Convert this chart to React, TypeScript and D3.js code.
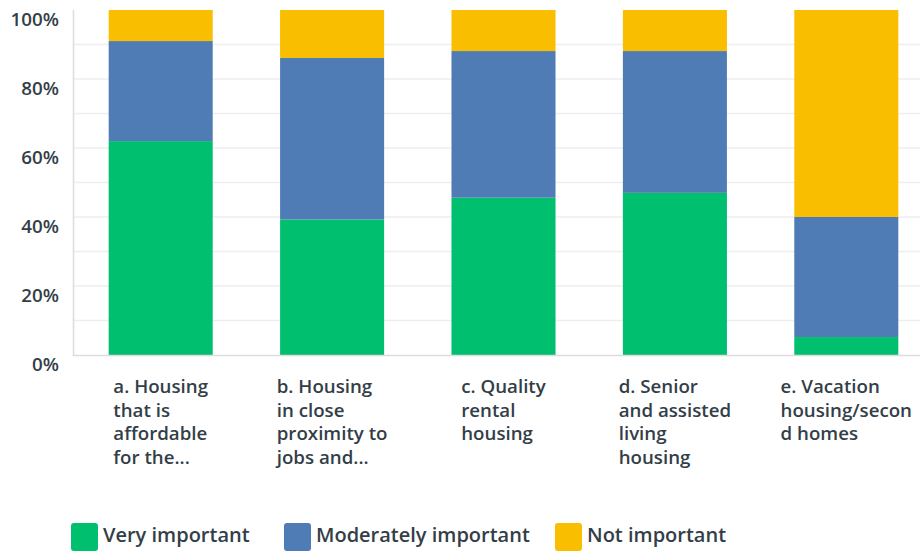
import React, { useEffect, useRef } from "react";
import * as d3 from "d3";

const categories = [
  ["a. Housing", "that is", "affordable", "for the..."],
  ["b. Housing", "in close", "proximity to", "jobs and..."],
  ["c. Quality", "rental", "housing"],
  ["d. Senior", "and assisted", "living", "housing"],
  ["e. Vacation", "housing/secon", "d homes"],
];
const categoryKeys = ["a", "b", "c", "d", "e"];
const seriesNames = ["Very important", "Moderately important", "Not important"];
const veryImportant = [62.0, 39.3, 45.6, 47.0, 5.2];
const moderatelyImportant = [29.0, 46.8, 42.5, 41.1, 34.8];
const notImportant = [9.0, 13.9, 11.9, 11.9, 60.0];
const yTicks = [0, 20, 40, 60, 80, 100];
const gridTicks = [10, 20, 30, 40, 50, 60, 70, 80, 90];
const colors = ["#00bf6f", "#507cb6", "#f9be00"];

const W = 920;
const H = 551;
const FONT = "'Open Sans', sans-serif";
const TEXT = "#333e48";

export default function App() {
  const ref = useRef<SVGSVGElement | null>(null);

  useEffect(() => {
    const svg = d3.select(ref.current);
    svg.selectAll("*").remove();

    const rows = categoryKeys.map((k, i) => ({
      key: k,
      v0: veryImportant[i],
      v1: moderatelyImportant[i],
      v2: notImportant[i],
    }));
    const stack = d3.stack<any>().keys(["v0", "v1", "v2"]);
    const series = stack(rows);

    const x = d3
      .scaleBand()
      .domain(categoryKeys)
      .range([75, 932])
      .paddingInner(0.393)
      .paddingOuter(0.1965);
    const y = d3.scaleLinear().domain([0, 100]).range([355, 10]);

    // gridlines
    svg
      .append("g")
      .selectAll("line")
      .data(gridTicks)
      .join("line")
      .attr("x1", 74)
      .attr("x2", W)
      .attr("y1", (d) => y(d))
      .attr("y2", (d) => y(d))
      .attr("stroke", "#eeeeee")
      .attr("stroke-width", 1.5);

    // bars
    svg
      .append("g")
      .selectAll("g")
      .data(series)
      .join("g")
      .attr("fill", (_d, i) => colors[i])
      .selectAll("rect")
      .data((d) => d)
      .join("rect")
      .attr("x", (d: any) => x(d.data.key)!)
      .attr("width", x.bandwidth())
      .attr("y", (d: any) => y(d[1]))
      .attr("height", (d: any) => y(d[0]) - y(d[1]));

    // axes lines
    svg
      .append("line")
      .attr("x1", 73.5)
      .attr("x2", 73.5)
      .attr("y1", y(100))
      .attr("y2", y(0) + 1)
      .attr("stroke", "#dcdcdc")
      .attr("stroke-width", 1.5);
    svg
      .append("line")
      .attr("x1", 73)
      .attr("x2", W)
      .attr("y1", y(0) + 0.5)
      .attr("y2", y(0) + 0.5)
      .attr("stroke", "#dcdcdc")
      .attr("stroke-width", 1.5);

    // y tick labels
    svg
      .append("g")
      .selectAll("text")
      .data(yTicks)
      .join("text")
      .attr("x", 59)
      .attr("y", (d) => y(d) + 16)
      .attr("text-anchor", "end")
      .attr("font-family", FONT)
      .attr("font-weight", 600)
      .attr("font-size", 18.8)
      .attr("fill", TEXT)
      .text((d) => `${d}%`);

    // category labels (left-aligned block, centered on the band)
    const cg = svg
      .append("g")
      .selectAll("text")
      .data(categories)
      .join("text")
      .attr("y", 393)
      .attr("font-family", FONT)
      .attr("font-weight", 600)
      .attr("font-size", 18.7)
      .attr("fill", TEXT);
    cg.selectAll("tspan")
      .data((d) => d)
      .join("tspan")
      .attr("dy", (_d, i) => (i === 0 ? 0 : 23.5))
      .text((d) => d);
    cg.each(function (_d, i) {
      const spans = d3.select(this).selectAll<SVGTSpanElement, string>("tspan");
      let maxW = 0;
      spans.each(function () {
        maxW = Math.max(maxW, this.getComputedTextLength());
      });
      const cx = x(categoryKeys[i])! + x.bandwidth() / 2;
      const left = cx - maxW / 2;
      d3.select(this).attr("x", left);
      spans.attr("x", left);
    });

    // legend
    const legendX = [71, 284, 555];
    const lg = svg
      .append("g")
      .selectAll("g")
      .data(seriesNames)
      .join("g")
      .attr("transform", (_d, i) => `translate(${legendX[i]},523)`);
    lg.append("rect")
      .attr("width", 27)
      .attr("height", 28)
      .attr("rx", 3)
      .attr("fill", (_d, i) => colors[i]);
    lg.append("text")
      .attr("x", 32)
      .attr("y", 18.5)
      .attr("font-family", FONT)
      .attr("font-weight", 600)
      .attr("font-size", 20)
      .attr("fill", TEXT)
      .text((d) => d);
  }, []);

  return (
    <svg
      ref={ref}
      width={W}
      height={H}
      style={{ position: "absolute", left: 0, top: 0, background: "#fff" }}
    />
  );
}
